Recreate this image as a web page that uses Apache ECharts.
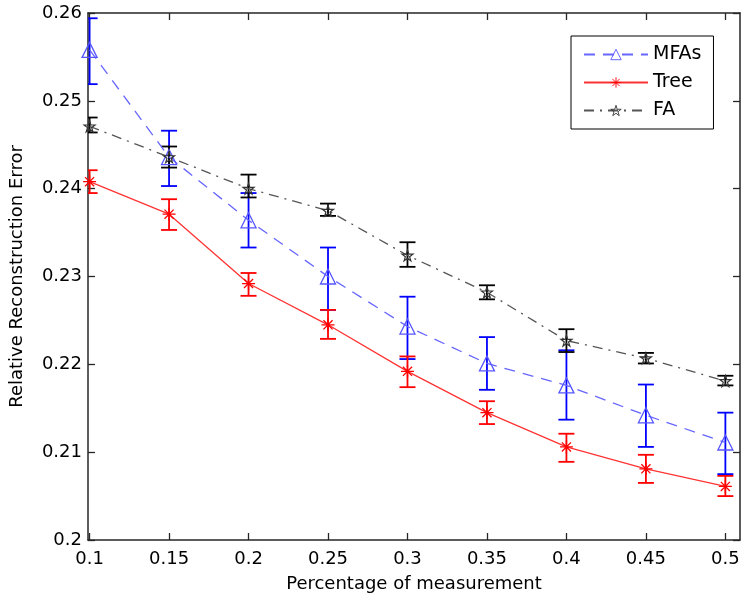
<!DOCTYPE html>
<html>
<head>
<meta charset="utf-8">
<script src="https://cdn.jsdelivr.net/npm/echarts@6/dist/echarts.min.js"></script>
<style>
html,body{margin:0;padding:0;background:#fff;}
#chart{width:750px;height:602px;}
</style>
</head>
<body>
<div id="chart"></div>
<script>
const xValues = [0.1, 0.15, 0.2, 0.25, 0.3, 0.35, 0.4, 0.45, 0.5];
const yTicks = [0.2, 0.21, 0.22, 0.23, 0.24, 0.25, 0.26];
const seriesNames = ['MFAs', 'Tree', 'FA'];

const mfaMean = [0.2558, 0.2436, 0.2364, 0.2300, 0.2243, 0.2201, 0.2176, 0.2142, 0.2111];
const mfaLow  = [0.2519, 0.2403, 0.2333, 0.2262, 0.2206, 0.2171, 0.2137, 0.2106, 0.2075];
const mfaHigh = [0.2594, 0.2466, 0.2395, 0.2333, 0.2277, 0.2231, 0.2216, 0.2177, 0.2145];

const treeMean = [0.2408, 0.2371, 0.2292, 0.2245, 0.2192, 0.2145, 0.2106, 0.2081, 0.2061];
const treeLow  = [0.2395, 0.2353, 0.2278, 0.2229, 0.2174, 0.2132, 0.2089, 0.2065, 0.2050];
const treeHigh = [0.2421, 0.2388, 0.2304, 0.2262, 0.2209, 0.2158, 0.2121, 0.2097, 0.2073];

const faMean = [0.2471, 0.2436, 0.2400, 0.2375, 0.2324, 0.2282, 0.2227, 0.2207, 0.2181];
const faLow  = [0.2464, 0.2424, 0.2390, 0.2369, 0.2311, 0.2274, 0.2214, 0.2201, 0.2176];
const faHigh = [0.2481, 0.2448, 0.2416, 0.2383, 0.2339, 0.2290, 0.2240, 0.2213, 0.2187];

const FONT = 'DejaVu Sans';
const AXIS_COLOR = '#262626';

const chart = echarts.init(document.getElementById('chart'), null, {renderer: 'canvas'});

const starPath = 'path://M0,-1L0.2245,-0.309L0.951,-0.309L0.3633,0.118L0.588,0.809L0,0.382L-0.588,0.809L-0.3633,0.118L-0.951,-0.309L-0.2245,-0.309Z';
const asteriskPath = 'path://M0,-1L0,1M-1,0L1,0M-0.7,-0.7L0.7,0.7M-0.7,0.7L0.7,-0.7';

function pairs(means) { return xValues.map((x, i) => [x, means[i]]); }
function errData(low, high) { return xValues.map((x, i) => [x, low[i], high[i]]); }

function errorSeries(low, high, color) {
  return {
    type: 'custom',
    clip: true,
    silent: true,
    z: 3,
    data: errData(low, high),
    encode: {x: 0, y: [1, 2]},
    renderItem: function (params, api) {
      const x = api.value(0);
      const lo = api.coord([x, api.value(1)]);
      const hi = api.coord([x, api.value(2)]);
      const hw = 8;
      const style = {stroke: color, lineWidth: 1.8, fill: null};
      return {
        type: 'group',
        children: [
          {type: 'line', shape: {x1: lo[0], y1: lo[1], x2: hi[0], y2: hi[1]}, style: style},
          {type: 'line', shape: {x1: hi[0] - hw, y1: hi[1], x2: hi[0] + hw, y2: hi[1]}, style: style},
          {type: 'line', shape: {x1: lo[0] - hw, y1: lo[1], x2: lo[0] + hw, y2: lo[1]}, style: style}
        ]
      };
    }
  };
}

const fmt2 = v => String(+(+v).toFixed(2));

const option = {
  backgroundColor: '#ffffff',
  animation: false,
  grid: {left: 86, top: 13, right: 10, bottom: 62, containLabel: false},
  legend: {
    left: 571, top: 36,
    orient: 'vertical',
    padding: [9, 12, 9, 12],
    itemGap: 9,
    itemWidth: 64,
    itemHeight: 13,
    borderColor: '#000',
    borderWidth: 1,
    backgroundColor: '#fff',
    itemStyle: {borderWidth: 0.9},
    textStyle: {fontFamily: FONT, fontSize: 19, color: '#000', lineHeight: 19},
    data: seriesNames
  },
  xAxis: [{
    type: 'value',
    min: 0.099, max: 0.5092,
    name: 'Percentage of measurement',
    nameLocation: 'middle',
    nameGap: 35,
    nameTextStyle: {fontFamily: FONT, fontSize: 18, color: '#000'},
    axisLine: {onZero: false, lineStyle: {color: AXIS_COLOR, width: 1.5}},
    axisTick: {inside: true, length: 7, customValues: xValues, lineStyle: {color: AXIS_COLOR, width: 1.3}},
    axisLabel: {customValues: xValues, formatter: fmt2, fontFamily: FONT, fontSize: 18, color: '#000', margin: 10},
    splitLine: {show: false}
  }, {
    type: 'value',
    position: 'top',
    min: 0.099, max: 0.5092,
    axisLine: {onZero: false, lineStyle: {color: AXIS_COLOR, width: 1.5}},
    axisTick: {inside: true, length: 7, customValues: xValues, lineStyle: {color: AXIS_COLOR, width: 1.3}},
    axisLabel: {show: false},
    splitLine: {show: false}
  }],
  yAxis: [{
    type: 'value',
    min: 0.2, max: 0.26,
    name: 'Relative Reconstruction Error',
    nameLocation: 'middle',
    nameGap: 62,
    nameTextStyle: {fontFamily: FONT, fontSize: 18, color: '#000'},
    axisLine: {show: true, onZero: false, lineStyle: {color: AXIS_COLOR, width: 1.5}},
    axisTick: {show: true, inside: true, length: 7, customValues: yTicks, lineStyle: {color: AXIS_COLOR, width: 1.3}},
    axisLabel: {customValues: yTicks, formatter: fmt2, fontFamily: FONT, fontSize: 18, color: '#000', margin: 6},
    splitLine: {show: false}
  }, {
    type: 'value',
    position: 'right',
    min: 0.2, max: 0.26,
    axisLine: {show: true, onZero: false, lineStyle: {color: AXIS_COLOR, width: 1.5}},
    axisTick: {show: true, inside: true, length: 7, customValues: yTicks, lineStyle: {color: AXIS_COLOR, width: 1.3}},
    axisLabel: {show: false},
    splitLine: {show: false}
  }],
  series: [
    errorSeries(mfaLow, mfaHigh, '#0000ff'),
    {
      name: 'MFAs', type: 'line', z: 4,
      data: pairs(mfaMean),
      symbol: 'triangle', symbolSize: 15, showSymbol: true,
      lineStyle: {color: '#6666ff', width: 1.3, type: [11, 8]},
      itemStyle: {color: 'rgba(255,255,255,0)', borderColor: '#5555ff', borderWidth: 1.3}
    },
    errorSeries(treeLow, treeHigh, '#ff0000'),
    {
      name: 'Tree', type: 'line', z: 4,
      data: pairs(treeMean),
      symbol: asteriskPath, symbolSize: 13, showSymbol: true,
      lineStyle: {color: '#ff3333', width: 1.3, type: 'solid'},
      itemStyle: {color: 'rgba(255,255,255,0)', borderColor: '#ff0000', borderWidth: 1.3}
    },
    errorSeries(faLow, faHigh, '#000000'),
    {
      name: 'FA', type: 'line', z: 4,
      data: pairs(faMean),
      symbol: starPath, symbolSize: 11, showSymbol: true,
      lineStyle: {color: '#555555', width: 1.3, type: [10, 6, 2, 6]},
      itemStyle: {color: 'rgba(255,255,255,0)', borderColor: '#333333', borderWidth: 1.2}
    }
  ]
};

chart.setOption(option);
</script>
</body>
</html>
